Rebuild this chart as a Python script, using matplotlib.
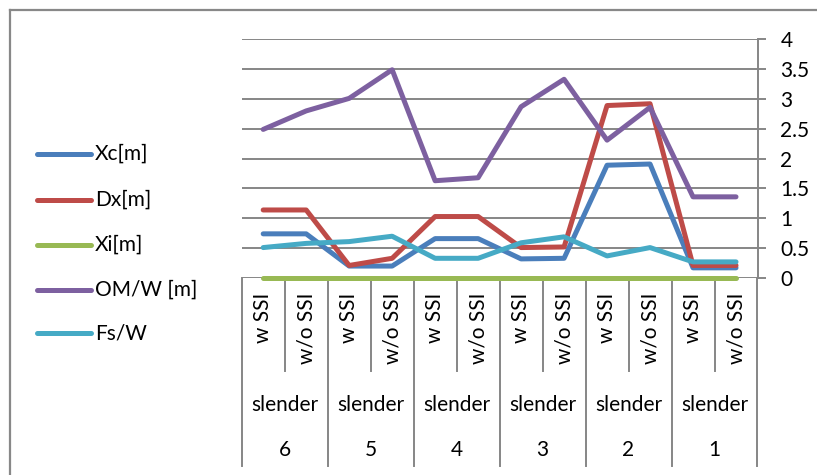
import numpy as np
import matplotlib
matplotlib.use('Agg')
import matplotlib.pyplot as plt
from matplotlib.lines import Line2D

plt.rcParams['font.family'] = ['Lato', 'DejaVu Sans']

# data
groups = ['6', '5', '4', '3', '2', '1']
sub_labels = ['w SSI', 'w/o SSI']
mid_label = 'slender'
series_names = ['Xc[m]', 'Dx[m]', 'Xi[m]', 'OM/W [m]', 'Fs/W']
xc = [0.74, 0.74, 0.20, 0.20, 0.66, 0.66, 0.32, 0.33, 1.89, 1.91, 0.17, 0.17]
dx = [1.14, 1.14, 0.21, 0.33, 1.03, 1.03, 0.51, 0.52, 2.89, 2.92, 0.21, 0.21]
xi = [0, 0, 0, 0, 0, 0, 0, 0, 0, 0, 0, 0]
om = [2.49, 2.80, 3.01, 3.49, 1.63, 1.68, 2.87, 3.33, 2.31, 2.86, 1.36, 1.36]
fs = [0.51, 0.58, 0.61, 0.70, 0.33, 0.33, 0.59, 0.69, 0.37, 0.51, 0.27, 0.27]
y_ticks = [0, 0.5, 1, 1.5, 2, 2.5, 3, 3.5, 4]

colors = ['#4A7EBB', '#BE4B48', '#98B954', '#7D60A0', '#46AAC5']
grid_c = '#868686'
fsz = 15

W, H = 817, 475
fig = plt.figure(figsize=(W / 100, H / 100), dpi=100)

def fx(px):
    return px / W

def fy(py):
    return 1 - py / H

# plot area in pixels
x0, x1, ytop, ybot = 241.7, 757.5, 39.3, 278
ax = fig.add_axes([fx(x0), fy(ybot), fx(x1) - fx(x0), fy(ytop) - fy(ybot)])

n = len(xc)
x = np.arange(n) + 0.5
ax.set_xlim(0, n)
ax.set_ylim(0, 4)

# gridlines
for t in y_ticks:
    ax.axhline(t, color=grid_c, lw=1.4, zorder=1)

for vals, c in zip([xc, dx, xi, om, fs], colors):
    ax.plot(x, vals, color=c, lw=3.6, solid_capstyle='round',
            solid_joinstyle='round', zorder=3, clip_on=False)

for s in ['top', 'left', 'bottom']:
    ax.spines[s].set_visible(False)
ax.spines['right'].set_color(grid_c)
ax.spines['right'].set_linewidth(1.4)
ax.yaxis.tick_right()
ax.set_yticks(y_ticks)
ax.set_yticklabels(['0', '0.5', '1', '1.5', '2', '2.5', '3', '3.5', '4'])
ax.tick_params(axis='y', length=5.5, width=1.4, color=grid_c, pad=11,
               labelsize=fsz)
ax.set_xticks([])

# multi-level category axis
trans = ax.get_xaxis_transform()
ph = ybot - ytop
def ay(py):
    return (ybot - py) / ph

for i in range(n + 1):
    bottom = ay(466) if i % 2 == 0 else ay(371)
    ax.plot([i, i], [0, bottom], color=grid_c, lw=1.4, transform=trans,
            clip_on=False, zorder=2)

for i in range(n):
    ax.text(i + 0.5, ay(293), sub_labels[i % 2], rotation=90, ha='center',
            va='top', fontsize=fsz, transform=trans, clip_on=False)

for g, lab in enumerate(groups):
    ax.text(2 * g + 1, ay(405), mid_label, ha='center', va='center',
            fontsize=fsz, transform=trans)
    ax.text(2 * g + 1, ay(450), lab, ha='center', va='center',
            fontsize=fsz, transform=trans)

# legend on the left
leg_y = [154, 200, 245, 290, 333]
for name, c, py in zip(series_names, colors, leg_y):
    fig.add_artist(Line2D([fx(37), fx(91)], [fy(py), fy(py)], color=c,
                          lw=3.6, solid_capstyle='round',
                          transform=fig.transFigure))
    fig.text(fx(95), fy(py), name, ha='left', va='center', fontsize=fsz)

# chart border
fig.add_artist(Line2D([fx(10), fx(10)], [fy(10), 0], color='#888888', lw=1.6,
                      transform=fig.transFigure))
fig.add_artist(Line2D([fx(10), 1], [fy(10), fy(10)], color='#888888', lw=1.6,
                      transform=fig.transFigure))

fig.savefig('out.png', dpi=100)
